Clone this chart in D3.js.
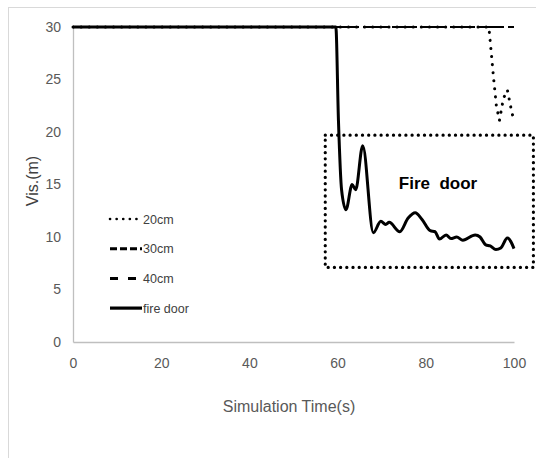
<!DOCTYPE html>
<html><head><meta charset="utf-8">
<script src="https://cdn.jsdelivr.net/npm/d3@7"></script>
<style>body{margin:0;background:#fff}svg{display:block}</style>
</head><body>
<svg id="c" width="536" height="458"></svg>
<script>
const xTicks=[0,20,40,60,80,100];
const yTicks=[0,5,10,15,20,25,30];
const seriesNames=["20cm","30cm","40cm","fire door"];
const t20=[0,94.3,95.4,96.0,96.7,97.6,98.5,99.3,100];
const v20=[30,30,25,22.5,21.1,23.2,24.0,22.3,21.0];
const t30=[0,100];
const v30=[30,30];
const t40=[0,100];
const v40=[30,30];
const tFire=[0,59.6,60.2,60.9,61.9,63.3,64.1,65.7,68.1,69.8,70.9,71.7,74.1,76.0,77.6,79.1,81.0,82.1,83.1,84.6,85.7,87.0,88.4,91.2,92.3,93.6,94.6,95.9,97.0,98.5,100];
const vFire=[30,30,21,14.5,12.6,15.0,14.5,18.7,10.4,11.5,11.2,11.4,10.5,11.8,12.3,11.7,10.6,10.5,9.8,10.2,9.85,10.0,9.7,10.2,10.0,9.25,9.15,8.8,8.95,9.9,8.9];
const boxX=[57.2,104.4], boxY=[7.1,19.7];
const boxLabel="Fire  door";
const xTitle="Simulation Time(s)", yTitle="Vis.(m)";

const svg=d3.select("#c");
const x=d3.scaleLinear().domain([0,100]).range([73,514]);
const y=d3.scaleLinear().domain([0,30]).range([342,27]);
const tickFont="'Liberation Sans',Arial,sans-serif";

svg.append("rect").attr("x",8.5).attr("y",7.5).attr("width",540).attr("height",470)
  .attr("fill","#fff").attr("stroke","#d9d9d9");

// axes
const gx=svg.append("g").attr("transform","translate(0,342)")
  .call(d3.axisBottom(x).tickValues(xTicks).tickSize(0).tickPadding(16));
const gy=svg.append("g").attr("transform","translate(73,0)")
  .call(d3.axisLeft(y).tickValues(yTicks).tickSize(0).tickPadding(12));
[gx,gy].forEach(g=>{
  g.select(".domain").attr("stroke","#bfbfbf").attr("stroke-width",1.3);
  g.selectAll("text").attr("fill","#595959").attr("font-family",tickFont).attr("font-size",14);
});

svg.append("text").attr("x",289).attr("y",412).attr("text-anchor","middle")
  .attr("font-family",tickFont).attr("font-size",16).attr("fill","#595959").text(xTitle);
svg.append("text").attr("transform","translate(38,181) rotate(-90)").attr("text-anchor","middle")
  .attr("font-family",tickFont).attr("font-size",16).attr("fill","#404040").text(yTitle);

const line=d3.line().x(d=>x(d[0])).y(d=>y(d[1]));
const lineSmooth=d3.line().x(d=>x(d[0])).y(d=>y(d[1])).curve(d3.curveMonotoneX);
const zip=(a,b)=>a.map((t,i)=>[t,b[i]]);

svg.append("path").datum(zip(t30,v30)).attr("d",line).attr("fill","none")
  .attr("stroke","#000").attr("stroke-width",2).attr("stroke-dasharray","10.5,4");
svg.append("path").datum(zip(t40,v40)).attr("d",line).attr("fill","none")
  .attr("stroke","#000").attr("stroke-width",2).attr("stroke-dasharray","25,4");
svg.append("path").datum(zip(t20,v20)).attr("d",line).attr("fill","none")
  .attr("stroke","#000").attr("stroke-width",3).attr("stroke-linecap","round").attr("stroke-dasharray","0.1,8");
svg.append("path").datum(zip(tFire,vFire)).attr("d",lineSmooth).attr("fill","none")
  .attr("stroke","#000").attr("stroke-width",3).attr("stroke-linejoin","round");

// annotation box
svg.append("rect").attr("x",x(boxX[0])).attr("y",y(boxY[1]))
  .attr("width",x(boxX[1])-x(boxX[0])).attr("height",y(boxY[0])-y(boxY[1]))
  .attr("fill","none").attr("stroke","#000").attr("stroke-width",3.2)
  .attr("stroke-linecap","round").attr("stroke-dasharray","0.1,6.1");
svg.append("text").attr("x",438).attr("y",189).attr("text-anchor","middle")
  .attr("font-family","'Liberation Sans',Arial,sans-serif").attr("font-weight","bold")
  .attr("font-size",17).attr("fill","#000").style("white-space","pre").text(boxLabel);

// legend
const legDash=["0.1,6.5","7,3","8,10",null];
const legW=[2.6,3,3,3.2];
const leg=svg.append("g");
seriesNames.forEach((n,i)=>{
  const yy=219+i*29.7;
  const l=leg.append("line").attr("x1",110).attr("x2",142).attr("y1",yy).attr("y2",yy)
    .attr("stroke","#000").attr("stroke-width",legW[i]);
  if(legDash[i]) l.attr("stroke-dasharray",legDash[i]);
  if(i===0) l.attr("stroke-linecap","round");
  leg.append("text").attr("x",143).attr("y",yy+4.5).attr("font-family","'Liberation Sans',Arial,sans-serif")
    .attr("font-size",12.5).attr("fill","#404040").text(n);
});
</script>
</body></html>
